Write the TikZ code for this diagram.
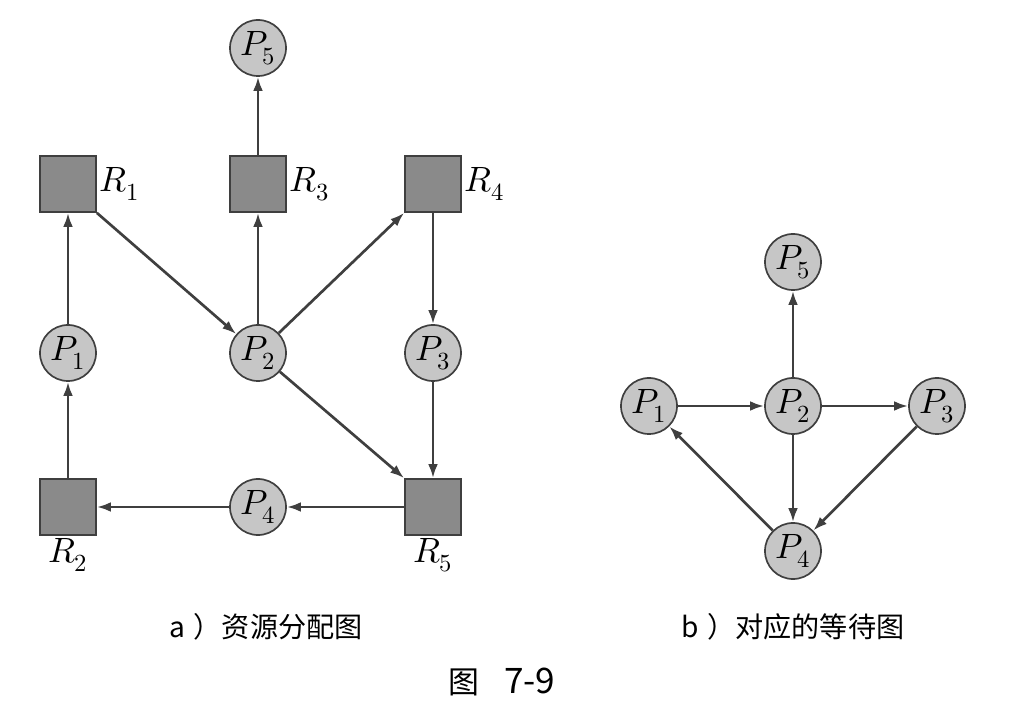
\documentclass[tikz,border=0pt]{standalone}
\usepackage{fontspec}
\usepackage{unicode-math}
\setmathfont{Latin Modern Math}
\newfontfamily\cjk{Noto Sans CJK SC}
\usetikzlibrary{arrows.meta}
\definecolor{edgegray}{HTML}{3F3F3F}
\definecolor{procfill}{HTML}{C6C6C6}
\definecolor{resfill}{HTML}{8A8A8A}
\tikzset{
  proc/.style={circle, draw=edgegray, line width=1.2pt, fill=procfill,
    minimum size=1.4cm, inner sep=0pt, font=\fontsize{25}{28}\selectfont},
  res/.style={rectangle, draw=edgegray, line width=1.2pt, fill=resfill,
    minimum size=1.4cm, inner sep=0pt},
  reslabel/.style={font=\fontsize{25}{28}\selectfont, inner sep=2pt},
  edge/.style={draw=edgegray, line width=1.9pt, -{Latex[length=10pt,width=7pt]}},
  caption/.style={font=\cjk\fontsize{20}{24}\selectfont}
}
\begin{document}
\begin{tikzpicture}[x=0.025cm, y=-0.025cm]
  \useasboundingbox (0, 0) rectangle (1022, 708);

  % a) resource allocation graph
  \node[proc] (p5) at (258, 48) {$P_5$};
  \node[res] (r1) at (68, 184) {};
  \node[res] (r3) at (258, 184) {};
  \node[res] (r4) at (433, 184) {};
  \node[proc] (p1) at (68, 353) {$P_1$};
  \node[proc] (p2) at (258, 353) {$P_2$};
  \node[proc] (p3) at (433, 353) {$P_3$};
  \node[res] (r2) at (68, 507) {};
  \node[proc] (p4) at (258, 507) {$P_4$};
  \node[res] (r5) at (433, 507) {};

  \node[reslabel, anchor=west] (l1) at (r1.east) {$R_1$};
  \node[reslabel, anchor=west] (l3) at (r3.east) {$R_3$};
  \node[reslabel, anchor=west] (l4) at (r4.east) {$R_4$};
  \node[reslabel, anchor=north] (l2) at (r2.south) {$R_2$};
  \node[reslabel, anchor=north] (l5) at (r5.south) {$R_5$};

  \draw[edge] (p1) -- (r1);
  \draw[edge] (r1.south east) -- (p2);
  \draw[edge] (p2) -- (r3);
  \draw[edge] (r3) -- (p5);
  \draw[edge] (p2) -- (r4.south west);
  \draw[edge] (r4) -- (p3);
  \draw[edge] (p3) -- (r5);
  \draw[edge] (p2) -- (r5.north west);
  \draw[edge] (r5) -- (p4);
  \draw[edge] (p4) -- (r2);
  \draw[edge] (r2) -- (p1);

  % b) wait-for graph
  \node[proc] (q5) at (793, 262) {$P_5$};
  \node[proc] (q1) at (649, 406) {$P_1$};
  \node[proc] (q2) at (793, 406) {$P_2$};
  \node[proc] (q3) at (937, 406) {$P_3$};
  \node[proc] (q4) at (793, 551) {$P_4$};

  \draw[edge] (q1) -- (q2);
  \draw[edge] (q2) -- (q5);
  \draw[edge] (q2) -- (q3);
  \draw[edge] (q2) -- (q4);
  \draw[edge] (q3) -- (q4);
  \draw[edge] (q4) -- (q1);

  % captions
  \node[caption] (capa) at (266, 627) {a\hspace{0.3em}）资源分配图};
  \node[caption] (capb) at (793, 627) {b\hspace{0.3em}）对应的等待图};
  \node[caption, font=\cjk\fontsize{22}{26}\selectfont] (fig) at (502, 682) {图\hspace{0.8em}{\fontsize{25}{28}\selectfont 7-9}};
\end{tikzpicture}
\end{document}
